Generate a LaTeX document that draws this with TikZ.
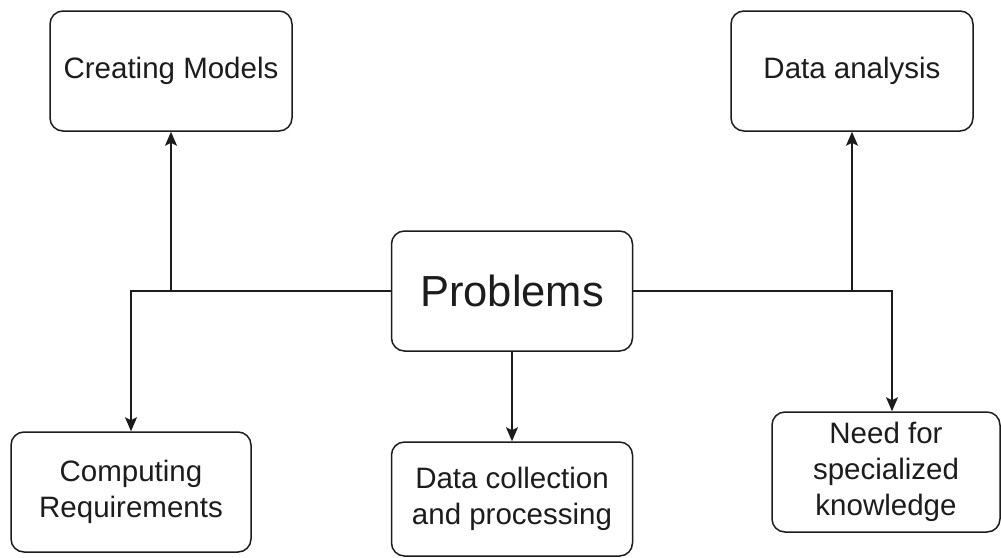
\documentclass[tikz,border=0pt]{standalone}
\usepackage{fontspec}
\setmainfont{Liberation Sans}
\usetikzlibrary{arrows.meta}
\definecolor{ink}{RGB}{28,28,28}
\begin{document}
\begin{tikzpicture}[x=1pt,y=-1pt,
  box/.style={draw=ink,line width=1.5pt,rounded corners=13pt,fill=white,
    text=ink,align=center,inner sep=0pt,
    font=\fontsize{29.5}{36}\selectfont},
  conn/.style={draw=ink,line width=1.5pt},
  arr/.style={conn,-{Stealth[length=14pt,width=12pt,inset=3pt]}}]
\useasboundingbox[fill=white] (0,0) rectangle (1001,557);
\node[box,minimum width=242pt,minimum height=120pt] (CM) at (171,71) {Creating Models};
\node[box,minimum width=242pt,minimum height=120pt] (DA) at (852,71) {Data analysis};
\node[box,minimum width=241pt,minimum height=120pt,font=\fontsize{43.5}{50}\selectfont] (P) at (512,291) {Problems};
\node[box,minimum width=241pt,minimum height=114pt] (DC) at (512,499) {Data collection\\and processing};
\node[box,minimum width=240pt,minimum height=120pt] (CR) at (131,492) {Computing\\Requirements};
\node[box,minimum width=228pt,minimum height=120pt] (NK) at (886,472) {Need for\\specialized\\knowledge};
\coordinate (NKin) at ([xshift=6pt]NK.north);
\draw[arr] (P.west) -| (CR.north);
\draw[arr] (CM.south |- P.west) -- (CM.south);
\draw[arr] (P.east) -| (NKin);
\draw[arr] (DA.south |- P.east) -- (DA.south);
\draw[arr] (P.south) -- (DC.north);
\end{tikzpicture}
\end{document}
